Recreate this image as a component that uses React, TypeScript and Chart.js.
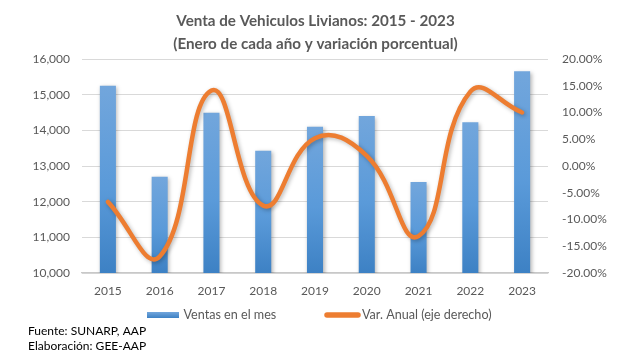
import React, { useEffect, useRef } from "react";
import { Chart, registerables } from "chart.js";

Chart.register(...registerables);

const titleLines = ["Venta de Vehiculos Livianos: 2015 - 2023", "(Enero de cada año y variación porcentual)"];
const years = ["2015", "2016", "2017", "2018", "2019", "2020", "2021", "2022", "2023"];
const ventas = [15250, 12700, 14490, 13430, 14100, 14400, 12550, 14230, 15660];
const variacion = [-6.7, -16.9, 14.1, -7.4, 5.2, 1.9, -13.1, 13.9, 10.0];
const ventasLabel = "Ventas en el mes";
const variacionLabel = "Var. Anual (eje derecho)";
const footerLines = ["Fuente: SUNARP, AAP", "Elaboración: GEE-AAP"];

const FONT = "Lato, 'Open Sans', sans-serif";
const GREY = "#595959";
const BLUE_TOP = "#72a6dc";
const BLUE_MID = "#5a9ad9";
const BLUE_BOTTOM = "#3d81c4";
const ORANGE = "#ED7D31";

const shadowPlugin = {
  id: "shadowPlugin",
  beforeDatasetDraw(chart: any) {
    const c = chart.ctx;
    c.save();
    c.shadowColor = "rgba(0,0,0,0.28)";
    c.shadowBlur = 4;
    c.shadowOffsetX = 1.5;
    c.shadowOffsetY = 1.5;
  },
  afterDatasetDraw(chart: any) {
    chart.ctx.restore();
  },
};

const legendFooterPlugin = {
  id: "legendFooterPlugin",
  afterDraw(chart: any) {
    const c = chart.ctx;
    const ds = chart.data.datasets;
    c.save();
    const ly = 315;
    const g = c.createLinearGradient(0, ly - 3, 0, ly + 3);
    g.addColorStop(0, BLUE_TOP);
    g.addColorStop(1, BLUE_BOTTOM);
    c.fillStyle = g;
    c.fillRect(147, ly - 3, 32, 6);
    c.font = `12.6px ${FONT}`;
    c.fillStyle = GREY;
    c.textBaseline = "middle";
    c.textAlign = "left";
    c.fillText(ds[0].label, 183.5, ly);
    c.strokeStyle = ORANGE;
    c.lineWidth = 5.5;
    c.lineCap = "round";
    c.beginPath();
    c.moveTo(327, ly);
    c.lineTo(358, ly);
    c.stroke();
    c.fillText(ds[1].label, 362, ly);
    c.font = `12px ${FONT}`;
    c.fillStyle = "#000";
    c.fillText(footerLines[0], 28, 331.5);
    c.fillText(footerLines[1], 28, 346.5);
    c.restore();
  },
};

export default function App() {
  const ref = useRef<HTMLCanvasElement>(null);

  useEffect(() => {
    if (!ref.current) return;
    const chart = new Chart(ref.current, {
      type: "bar",
      data: {
        labels: years,
        datasets: [
          {
            type: "bar",
            label: ventasLabel,
            data: ventas,
            yAxisID: "y",
            order: 1,
            barPercentage: 0.31,
            categoryPercentage: 1,
            backgroundColor: (ctx: any) => {
              const chart = ctx.chart;
              const area = chart.chartArea;
              if (!area || ctx.type !== "data") return "#5B9BD5";
              const y = chart.scales.y.getPixelForValue(ctx.raw);
              const gr = chart.ctx.createLinearGradient(0, y, 0, area.bottom);
              gr.addColorStop(0, BLUE_TOP);
              gr.addColorStop(0.55, BLUE_MID);
              gr.addColorStop(1, BLUE_BOTTOM);
              return gr;
            },
            borderWidth: 0,
          },
          {
            type: "line",
            label: variacionLabel,
            data: variacion,
            yAxisID: "y1",
            order: 0,
            borderColor: ORANGE,
            backgroundColor: ORANGE,
            borderWidth: 4.5,
            borderCapStyle: "round",
            borderJoinStyle: "round",
            pointRadius: 0,
            tension: 0.45,
            fill: false,
          },
        ],
      },
      options: {
        responsive: false,
        animation: false,
        layout: { padding: { left: 0, right: 0, top: 0, bottom: 65 } },
        plugins: {
          legend: { display: false },
          tooltip: { enabled: false },
          title: {
            display: true,
            text: titleLines,
            color: GREY,
            font: { family: FONT, size: 15.2, weight: "bold", lineHeight: "23.5px" },
            padding: { top: 9, bottom: 3 },
          },
        },
        scales: {
          x: {
            grid: { display: false, drawTicks: false },
            border: { display: true, color: "#c8c8c8", width: 1.2 },
            ticks: { color: GREY, font: { family: FONT, size: 12 }, padding: 11, maxRotation: 0 },
            afterFit: (s: any) => {
              s.height = 26;
            },
          },
          y: {
            position: "left",
            min: 10000,
            max: 16000,
            grid: { color: "#d9d9d9", lineWidth: 1, drawTicks: false },
            border: { display: false },
            ticks: {
              stepSize: 1000,
              color: GREY,
              padding: 12,
              font: { family: FONT, size: 12 },
              callback: (v: any) => Number(v).toLocaleString("en-US"),
            },
            afterFit: (s: any) => {
              s.width = 82;
            },
          },
          y1: {
            position: "right",
            min: -20,
            max: 20,
            grid: { display: false, drawTicks: false },
            border: { display: false },
            ticks: {
              stepSize: 5,
              color: GREY,
              padding: 14,
              font: { family: FONT, size: 12 },
              callback: (v: any) => Number(v).toFixed(2) + "%",
            },
            afterFit: (s: any) => {
              s.width = 83;
            },
          },
        },
      },
      plugins: [shadowPlugin, legendFooterPlugin],
    } as any);
    return () => chart.destroy();
  }, []);

  return (
    <div style={{ position: "absolute", left: 0, top: 0, width: 631, height: 364, background: "#fff" }}>
      <canvas ref={ref} width={631} height={364} style={{ width: 631, height: 364, display: "block" }} />
    </div>
  );
}
